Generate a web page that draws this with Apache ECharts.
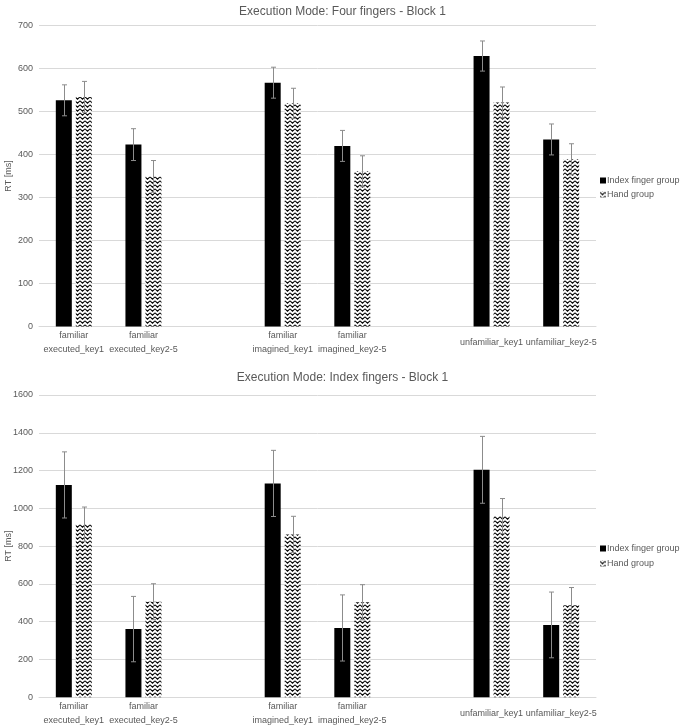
<!DOCTYPE html>
<html>
<head>
<meta charset="utf-8">
<script src="https://cdn.jsdelivr.net/npm/echarts@6/dist/echarts.min.js"></script>
<style>html,body{margin:0;padding:0;background:#fff}#c{width:685px;height:727px}</style>
</head>
<body>
<div id="c"></div>
<script>
const categories = ['familiar\nexecuted_key1','familiar\nexecuted_key2-5','','familiar\nimagined_key1','familiar\nimagined_key2-5','','unfamiliar_key1','unfamiliar_key2-5'];
const seriesNames = ['Index finger group','Hand group'];
const titles = ['Execution Mode: Four fingers - Block 1','Execution Mode: Index fingers - Block 1'];
const yAxisName = 'RT [ms]';

const fourIndex    = [526, 423, null, 567, 420, null, 629, 435];
const fourIndexErr = [36, 37, null, 36, 36, null, 35, 36];
const fourHand     = [534, 349, null, 519, 361, null, 521, 389];
const fourHandErr  = [36, 37, null, 35, 36, null, 36, 36];

const idxIndex     = [1124, 361, null, 1132, 367, null, 1204, 383];
const idxIndexErr  = [175, 173, null, 175, 175, null, 177, 174];
const idxHand      = [916, 506, null, 862, 503, null, 959, 487];
const idxHandErr   = [91, 95, null, 96, 93, null, 93, 94];

const yMax = [700, 1600];
const yInterval = [100, 200];

// zigzag pattern
const pc = document.createElement('canvas');
pc.width = 5; pc.height = 4;
const g = pc.getContext('2d');
g.fillStyle = '#fff'; g.fillRect(0,0,5,4);
g.strokeStyle = '#000'; g.lineWidth = 1.1;
g.beginPath(); g.moveTo(0,0.8); g.lineTo(2.5,3.2); g.lineTo(5,0.8); g.stroke();
const pattern = {image: pc, repeat: 'repeat'};

const BAR_W = 16, BAR_GAP = 0.25;
const txt = '#595959';
const font = 'Liberation Sans';

function errSeries(vals, errs, side, gi) {
  const data = [];
  vals.forEach((v, i) => { if (v != null) data.push([i, v, errs[i]]); });
  return {
    type: 'custom', xAxisIndex: gi, yAxisIndex: gi, z: 10, silent: true,
    encode: {x: 0, y: 1},
    data: data,
    renderItem: function (params, api) {
      const off = side * (BAR_W + BAR_W * BAR_GAP) / 2;
      const hi = api.coord([api.value(0), api.value(1) + api.value(2)]);
      const lo = api.coord([api.value(0), api.value(1) - api.value(2)]);
      const x = Math.round(hi[0] + off) + 0.5;
      const st = {stroke: '#8c8c8c', lineWidth: 1};
      return {type: 'group', children: [
        {type: 'line', shape: {x1: x, y1: hi[1], x2: x, y2: lo[1]}, style: st},
        {type: 'line', shape: {x1: x - 2.5, y1: hi[1], x2: x + 2.5, y2: hi[1]}, style: st},
        {type: 'line', shape: {x1: x - 2.5, y1: lo[1], x2: x + 2.5, y2: lo[1]}, style: st}
      ]};
    }
  };
}

function barSeries(name, vals, gi, color) {
  return {
    name: name, type: 'bar', xAxisIndex: gi, yAxisIndex: gi,
    data: vals.map(v => v == null ? '-' : v),
    barWidth: BAR_W, barGap: (BAR_GAP * 100) + '%',
    itemStyle: {color: color},
    emphasis: {disabled: true}
  };
}

const grids = [
  {left: 39, width: 557, top: 25.5, height: 301, outerBoundsMode: 'none', containLabel: false},
  {left: 39, width: 557, top: 395, height: 302.3, outerBoundsMode: 'none', containLabel: false}
];

const option = {
  animation: false,
  backgroundColor: '#fff',
  textStyle: {fontFamily: font},
  title: [
    {text: titles[0], left: 'center', top: 1, textStyle: {fontSize: 12, fontWeight: 'normal', color: txt, fontFamily: font}},
    {text: titles[1], left: 'center', top: 367, textStyle: {fontSize: 12, fontWeight: 'normal', color: txt, fontFamily: font}}
  ],
  legend: [0, 1].map(gi => ({
    data: seriesNames, orient: 'vertical', left: 595, top: gi === 0 ? 171 : 539,
    itemWidth: 6, itemHeight: 6, itemGap: gi === 0 ? 5 : 6, icon: 'rect',
    textStyle: {fontSize: 9, color: txt, fontFamily: font, padding: [0, 0, 0, -4]},
    selectedMode: false
  })),
  grid: grids,
  xAxis: [0, 1].map(gi => ({
    type: 'category', gridIndex: gi, data: categories,
    axisTick: {show: false},
    axisLine: {lineStyle: {color: '#d9d9d9'}},
    axisLabel: {interval: 0, color: txt, fontSize: 9, lineHeight: 14, fontFamily: font, verticalAlign: 'middle', margin: 16.5}
  })),
  yAxis: [0, 1].map(gi => ({
    type: 'value', gridIndex: gi, min: 0, max: yMax[gi], interval: yInterval[gi],
    name: yAxisName, nameLocation: 'middle', nameGap: 26, nameRotate: 90, nameMoveOverlap: false,
    nameTextStyle: {fontSize: 9, color: txt, fontFamily: font},
    axisLine: {show: false}, axisTick: {show: false},
    axisLabel: {color: txt, fontSize: 9, margin: 6, fontFamily: font, formatter: v => String(v)},
    splitLine: {lineStyle: {color: '#d9d9d9'}}
  })),
  series: [
    barSeries(seriesNames[0], fourIndex, 0, '#000'),
    barSeries(seriesNames[1], fourHand, 0, pattern),
    errSeries(fourIndex, fourIndexErr, -1, 0),
    errSeries(fourHand, fourHandErr, 1, 0),
    barSeries(seriesNames[0], idxIndex, 1, '#000'),
    barSeries(seriesNames[1], idxHand, 1, pattern),
    errSeries(idxIndex, idxIndexErr, -1, 1),
    errSeries(idxHand, idxHandErr, 1, 1)
  ]
};

const chart = echarts.init(document.getElementById('c'), null, {renderer: 'canvas'});
chart.setOption(option);
</script>
</body>
</html>
